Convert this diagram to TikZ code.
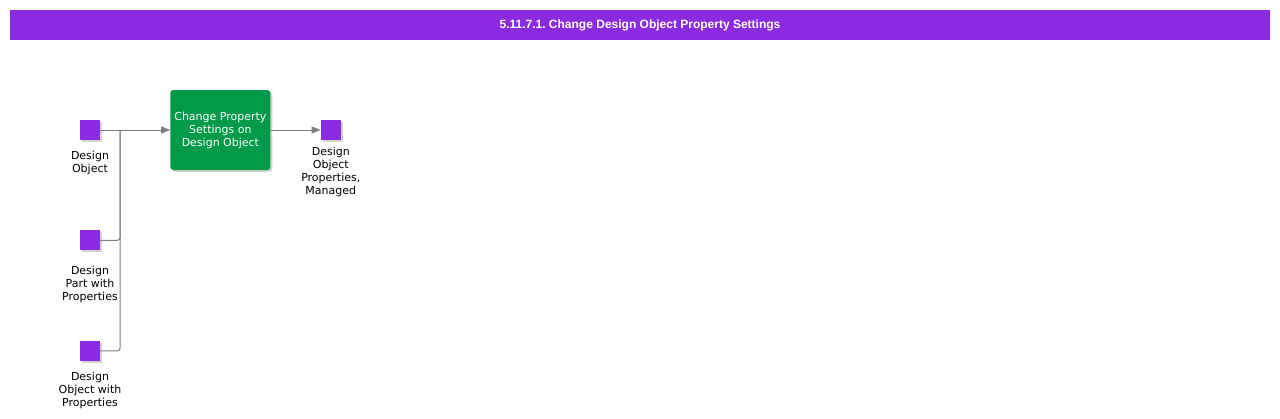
\documentclass[tikz,border=0pt]{standalone}
\usepackage{fontspec}
\setmainfont{DejaVu Sans}
\newfontfamily\titlefont{Liberation Sans}
\usetikzlibrary{positioning, shadows, arrows.meta}

\definecolor{violetbar}{HTML}{8A2BE2}
\definecolor{taskgreen}{HTML}{009A48}
\definecolor{linegray}{HTML}{808080}

\frenchspacing

\begin{document}
\begin{tikzpicture}[
        x=1pt, y=-1pt,
        item/.style={rectangle, fill=violetbar, minimum size=20pt, inner sep=0pt,
            drop shadow={shadow xshift=2pt, shadow yshift=-2pt, opacity=0.35}},
        task/.style={rectangle, rounded corners=3pt, fill=taskgreen, text=white,
            minimum width=100pt, minimum height=80pt, align=center, inner sep=1pt,
            font=\fontsize{11}{13}\selectfont,
            drop shadow={shadow xshift=2pt, shadow yshift=-2pt, opacity=0.35}},
        caption/.style={align=center, inner sep=0pt, font=\fontsize{11}{13}\selectfont},
        arrow/.style={-{Triangle[length=9pt, width=7pt]}, linegray, line width=1pt},
        link/.style={linegray, line width=1pt, rounded corners=3pt},
        node distance=70pt
    ]
    \useasboundingbox (0,0) rectangle (1280,418);

    % Title bar
    \node[fill=violetbar, minimum width=1260pt, minimum height=30pt, inner sep=0pt,
        text=white, font=\titlefont\bfseries\fontsize{12}{14}\selectfont] (title) at (640,25)
        {5.11.7.1. Change Design Object Property Settings};

    % Inputs
    \node[item] (obj) at (90,130) {};
    \node[item, below=90pt of obj] (part) {};
    \node[item, below=90pt of part] (objprop) {};

    % Task and output
    \node[task, right=70pt of obj] (change) {Change Property\\Settings on\\Design Object};
    \node[item, right=50pt of change] (managed) {};

    % Captions
    \node[caption, below=11pt of obj] {Design\\Object};
    \node[caption, below=15pt of part] {Design\\Part with\\Properties};
    \node[caption, below=11pt of objprop] {Design\\Object with\\Properties};
    \node[caption, below=7pt of managed] {Design\\Object\\Properties,\\Managed};

    % Connections
    \coordinate[right=20pt of obj] (join);
    \draw[arrow] (obj) -- (change);
    \draw[link] (part) -| (join);
    \draw[link] (objprop) -| (join);
    \draw[arrow] (change) -- (managed);
\end{tikzpicture}
\end{document}
